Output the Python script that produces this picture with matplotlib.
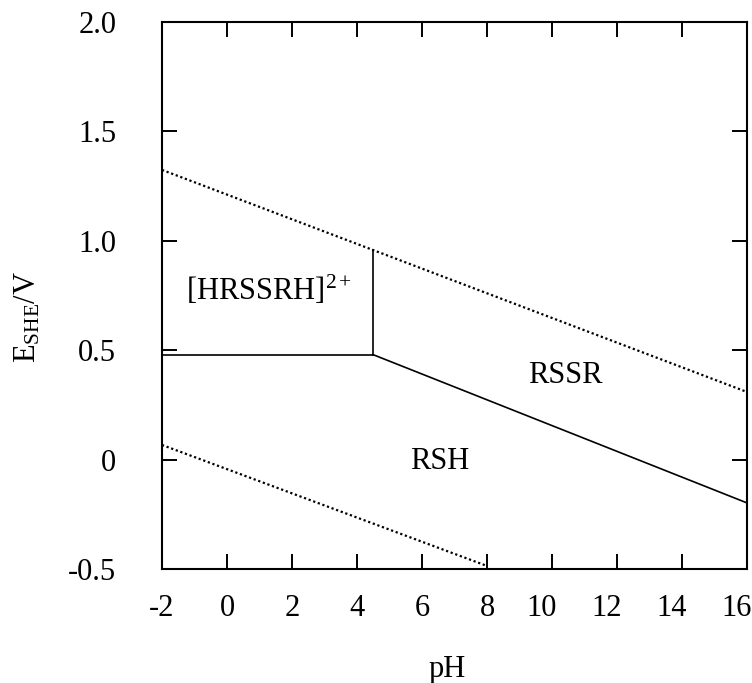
import matplotlib
matplotlib.use('Agg')
import matplotlib.pyplot as plt
import matplotlib.transforms as mtransforms

# phase boundaries (pH, E/V)
o2_ph = [-2, 16]
o2_e = [1.324, 0.309]
h2_ph = [-2, 8]
h2_e = [0.067, -0.486]
horiz_ph = [-2, 4.49]
horiz_e = [0.48, 0.48]
vert_ph = [4.49, 4.49]
vert_e = [0.48, 0.958]
slope_ph = [4.49, 16]
slope_e = [0.48, -0.198]

species = ['[HRSSRH]$^{2+}$', 'RSSR', 'RSH']
species_ph = [1.3, 10.4, 6.55]
species_e = [0.775, 0.385, -0.01]

xticks = [-2, 0, 2, 4, 6, 8, 10, 12, 14, 16]
yticks = [-0.5, 0, 0.5, 1.0, 1.5, 2.0]
ytick_labels = ['-0.5', '0', '0.5', '1.0', '1.5', '2.0']

plt.rcParams['font.family'] = ['Liberation Serif', 'DejaVu Serif']
plt.rcParams['mathtext.fontset'] = 'custom'
plt.rcParams['mathtext.rm'] = 'Liberation Serif'
plt.rcParams['mathtext.it'] = 'Liberation Serif:italic'
plt.rcParams['axes.unicode_minus'] = False

fig = plt.figure(figsize=(7.52, 6.83), dpi=100)
ax = fig.add_axes([0.2154, 0.1669, 0.7780, 0.8009])

dot = (0, (1, 1.2))
ax.plot(o2_ph, o2_e, color='black', lw=1.6, linestyle=dot)
ax.plot(h2_ph, h2_e, color='black', lw=1.6, linestyle=dot)
ax.plot(horiz_ph, horiz_e, color='black', lw=1.2)
ax.plot(vert_ph, vert_e, color='black', lw=1.2)
ax.plot(slope_ph, slope_e, color='black', lw=1.2)

for name, x, y in zip(species, species_ph, species_e):
    ax.text(x, y, name, fontsize=22, ha='center', va='center')

ax.set_xlim(-2, 16)
ax.set_ylim(-0.5, 2.0)
ax.set_xticks(xticks)
ax.set_xticklabels([str(t) for t in xticks])
ax.set_yticks(yticks)
ax.set_yticklabels(ytick_labels)

ax.tick_params(direction='in', length=10.8, width=1.4, labelsize=22,
               top=True, right=True)
ax.tick_params(axis='x', pad=18)
ax.tick_params(axis='y', pad=33)
for s in ax.spines.values():
    s.set_linewidth(1.5)

# two-digit labels sit a little left of their ticks in the original
shift = mtransforms.ScaledTranslation(-10 / 100, 0, fig.dpi_scale_trans)
for lab in ax.get_xticklabels():
    if len(lab.get_text()) == 2 and not lab.get_text().startswith('-'):
        lab.set_transform(lab.get_transform() + shift)

ax.set_xlabel('pH', fontsize=22)
ax.xaxis.set_label_coords(0.487, -0.158)
ax.set_ylabel(r'E$_{\mathrm{SHE}}$/V', fontsize=22)
ax.yaxis.set_label_coords(-0.205, 0.461)

fig.savefig('out.png', dpi=100)
